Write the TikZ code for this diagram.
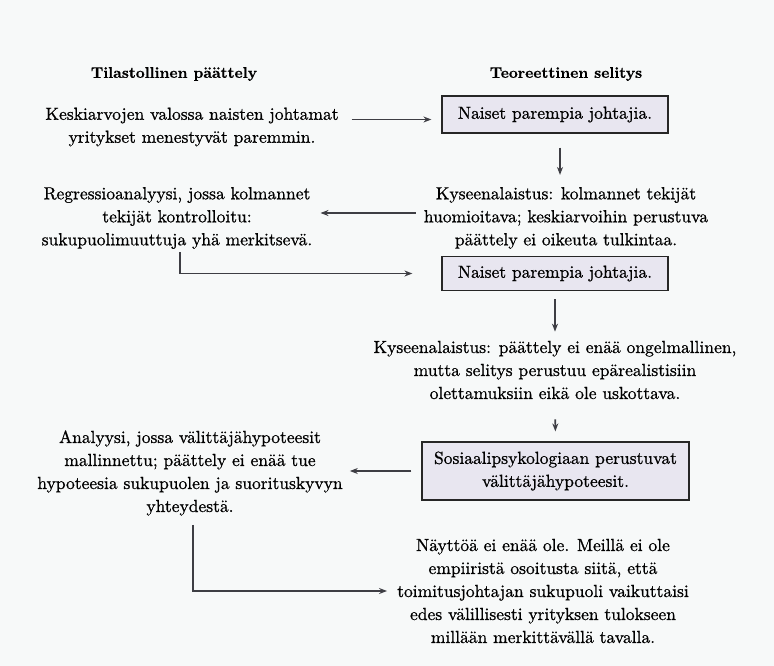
\documentclass[tikz,border=0pt]{standalone}
\usepackage{fontspec}
\usepackage{tikz}
\usetikzlibrary{arrows.meta,positioning,calc}
\newfontfamily\scanfont{lmroman10-regular}[Extension=.otf, FakeBold=0.8]
\newfontfamily\scanbold{lmroman10-bold}[Extension=.otf, FakeBold=0.7]
\definecolor{inkgray}{RGB}{62,62,68}
\definecolor{boxfill}{RGB}{232,230,240}
\definecolor{pagebg}{RGB}{247,249,249}

\begin{document}
\begin{tikzpicture}[x=1pt, y=-1pt, >={Stealth[length=8pt,width=6pt]},
    txt/.style={align=center, inner sep=0pt, font=\scanfont\fontsize{17.5}{23}\selectfont},
    head/.style={inner sep=0pt, font=\scanbold\fontsize{15.5}{18}\selectfont},
    claim/.style={draw=black!85, fill=boxfill, line width=1.2pt, align=center, inner sep=0pt, minimum width=226pt, font=\scanfont\fontsize{17.5}{23}\selectfont},
    link/.style={->, line width=1.6pt, inkgray}]
    \fill[pagebg] (0,0) rectangle (774,666);

    % column headings
    \node[head] (headstat) at (174,74) {Tilastollinen päättely};
    \node[head] (headtheo) at (566,74) {Teoreettinen selitys};

    % statistical side (left) and theoretical side (right)
    \node[txt] (stat1) at (192,127) {Keskiarvojen valossa naisten johtamat\\ yritykset menestyvät paremmin.};
    \node[claim, minimum height=37pt] (theo1) at (555,114.5) {Naiset parempia johtajia.};
    \node[txt] (crit1) at (566,218) {Kyseenalaistus: kolmannet tekijät\\ huomioitava; keskiarvoihin perustuva\\ päättely ei oikeuta tulkintaa.};
    \node[txt] (stat2) at (177,218) {Regressioanalyysi, jossa kolmannet\\ tekijät kontrolloitu:\\ sukupuolimuuttuja yhä merkitsevä.};
    \node[claim, minimum height=34pt] (theo2) at (555,273.5) {Naiset parempia johtajia.};
    \node[txt] (crit2) at (555,370) {Kyseenalaistus: päättely ei enää ongelmallinen,\\ mutta selitys perustuu epärealistisiin\\ olettamuksiin eikä ole uskottava.};
    \node[claim, minimum width=267pt, minimum height=58pt] (theo3) at (555.5,471) {Sosiaalipsykologiaan perustuvat\\ välittäjähypoteesit.};
    \node[txt] (stat3) at (190,473) {Analyysi, jossa välittäjähypoteesit\\ mallinnettu; päättely ei enää tue\\ hypoteesia sukupuolen ja suorituskyvyn\\ yhteydestä.};
    \node[txt] (verdict) at (543,591) {Näyttöä ei enää ole. Meillä ei ole\\ empiiristä osoitusta siitä, että\\ toimitusjohtajan sukupuoli vaikuttaisi\\ edes välillisesti yrityksen tulokseen\\ millään merkittävällä tavalla.};

    % connectors
    \draw[link, shorten <=13pt, shorten >=10pt] ([yshift=-5pt]stat1.east |- theo1.west) -- ([yshift=-5pt]theo1.west);
    \draw[link, shorten <=14pt, shorten >=12pt] ([xshift=5pt]theo1.south) -- ([xshift=5pt]theo1.south |- crit1.north);
    \draw[link, shorten <=8pt, shorten >=8pt] ([yshift=5pt]crit1.west) -- ([yshift=5pt]crit1.west -| stat2.east);
    \draw[link, shorten <=3pt, shorten >=29pt] ([xshift=3pt]stat2.south) |- (theo2.west);
    \draw[link, shorten <=8pt, shorten >=9pt] (theo2.south) -- (crit2.north);
    \draw[link, shorten <=20pt, shorten >=10pt] (crit2.south) -- (theo3.north);
    \draw[link, shorten <=10pt, shorten >=7pt] (theo3.west) -- (theo3.west -| stat3.east);
    \draw[link, shorten <=9pt, shorten >=10pt] ([xshift=3pt]stat3.south) |- (verdict.west);
\end{tikzpicture}
\end{document}
